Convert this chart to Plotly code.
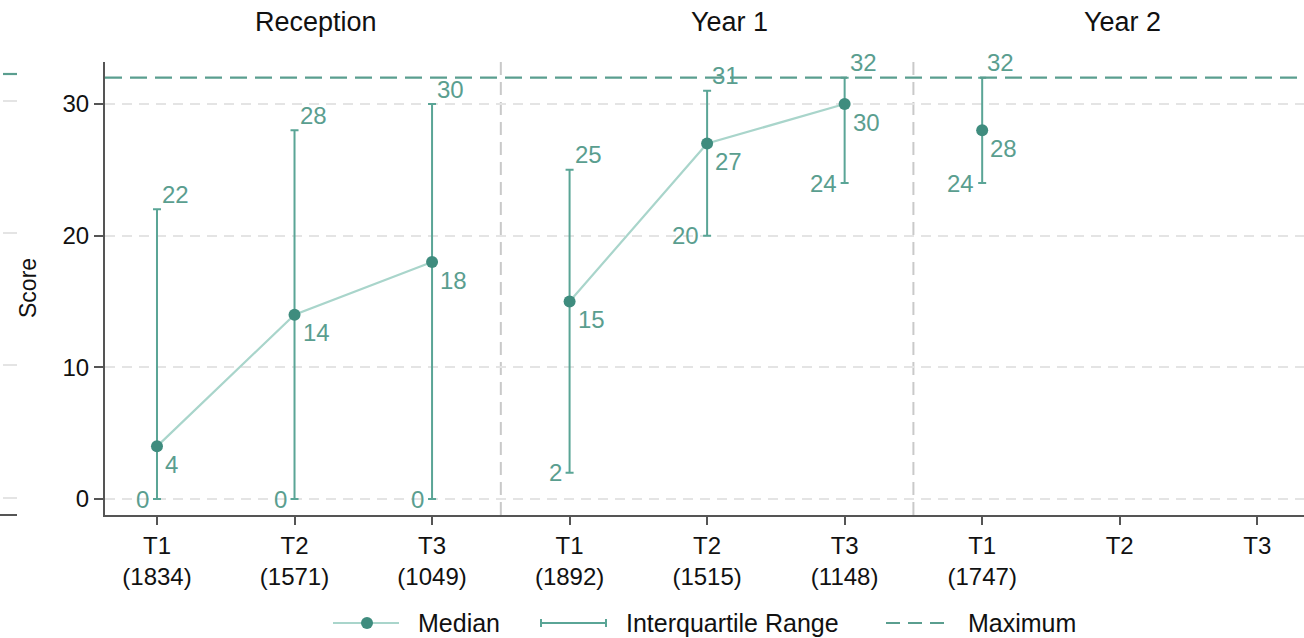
import plotly.graph_objects as go

# ---------------- data ----------------
groups = ["Reception", "Year 1", "Year 2"]
periods = ["T1", "T2", "T3"]
n_obs = [1834, 1571, 1049, 1892, 1515, 1148, 1747, None, None]
median = [4, 14, 18, 15, 27, 30, 28, None, None]
q1 = [0, 0, 0, 2, 20, 24, 24, None, None]
q3 = [22, 28, 30, 25, 31, 32, 32, None, None]
maximum = 32
y_ticks = [0, 10, 20, 30]

# ---------------- styling ----------------
W, H = 1304, 638
ML, MR, MT, MB = 105, 0, 62, 123
FONT = "Liberation Sans, Arial, sans-serif"
TEAL_DARK = "#3f8c7e"
TEAL = "#5aa596"
TEAL_LIGHT = "#a9d5cb"
TEAL_TEXT = "#5a9e8f"
GRID = "#e4e4e4"
SEP = "#c9c9c9"
AXIS = "#555555"

x_idx = list(range(len(groups) * len(periods)))
tick_text = []
for i in x_idx:
    p = periods[i % 3]
    tick_text.append(f"{p}<br>({n_obs[i]})" if n_obs[i] is not None else p)

x_range = [-0.378, 8.34]
y_range = [-1.215, 33.19]

fig = go.Figure()

# IQR error bars
valid = [i for i in x_idx if median[i] is not None]
fig.add_trace(go.Scatter(
    x=[i for i in valid], y=[median[i] for i in valid],
    mode="markers", marker=dict(size=1, opacity=0),
    error_y=dict(type="data", symmetric=False,
                 array=[q3[i] - median[i] for i in valid],
                 arrayminus=[median[i] - q1[i] for i in valid],
                 color=TEAL, thickness=2, width=4),
    name="Interquartile Range", showlegend=False, hoverinfo="skip"))

# Median lines within each group
lx, ly = [], []
for g in range(len(groups)):
    for p in range(3):
        i = g * 3 + p
        if median[i] is not None:
            lx.append(i); ly.append(median[i])
    lx.append(None); ly.append(None)
fig.add_trace(go.Scatter(x=lx, y=ly, mode="lines",
                         line=dict(color=TEAL_LIGHT, width=2.2),
                         showlegend=False, hoverinfo="skip", connectgaps=False))
fig.add_trace(go.Scatter(x=valid, y=[median[i] for i in valid], mode="markers",
                         marker=dict(color=TEAL_DARK, size=12),
                         name="Median", showlegend=False))

# Maximum line
fig.add_shape(type="line", xref="paper", x0=0, x1=1, yref="y", y0=maximum, y1=maximum,
              line=dict(color=TEAL_TEXT, width=2.2, dash="17px,8px"), layer="above")

# group separators
for g in range(1, len(groups)):
    xs = g * 3 - 0.5
    fig.add_shape(type="line", xref="x", x0=xs, x1=xs, yref="paper", y0=0, y1=1,
                  line=dict(color=SEP, width=2, dash="13px,7px"), layer="below")

annotations = []
lab_font = dict(family=FONT, size=24, color=TEAL_TEXT)
for i in valid:
    annotations.append(dict(x=i, y=q3[i], text=str(q3[i]), showarrow=False,
                            xanchor="left", yanchor="middle", xshift=3, yshift=15, font=lab_font))
    annotations.append(dict(x=i, y=q1[i], text=str(q1[i]), showarrow=False,
                            xanchor="right", yanchor="middle", xshift=-6, yshift=0, font=lab_font))
    annotations.append(dict(x=i, y=median[i], text=str(median[i]), showarrow=False,
                            xanchor="left", yanchor="middle", xshift=6, yshift=-18, font=lab_font))

# group titles
title_px = [316, 729, 1122]
for g, name in enumerate(groups):
    annotations.append(dict(xref="paper", yref="paper", x=(title_px[g] - ML) / (W - ML - MR),
                            y=(H - MB - 22) / (H - MT - MB), text=name, showarrow=False,
                            xanchor="center", yanchor="middle",
                            font=dict(family=FONT, size=27, color="#111111")))

# y axis title
annotations.append(dict(xref="paper", yref="paper", x=(28 - ML) / (W - ML - MR), y=(H - MB - 288) / (H - MT - MB),
                        text="Score", textangle=-90, showarrow=False, xanchor="center", yanchor="middle",
                        font=dict(family=FONT, size=23, color="#111111")))

# manual legend
pw, ph = W - ML - MR, H - MT - MB
def px(x): return (x - ML) / pw
def py(y): return (H - MB - y) / ph
ly_ = 623
shapes_leg = [
    dict(type="line", x0=px(333), x1=px(399), y0=py(ly_), y1=py(ly_), line=dict(color=TEAL_LIGHT, width=2.2)),
    dict(type="circle", x0=px(361), x1=px(373), y0=py(ly_ + 6), y1=py(ly_ - 6), fillcolor=TEAL_DARK, line=dict(width=0)),
    dict(type="line", x0=px(540), x1=px(607), y0=py(ly_), y1=py(ly_), line=dict(color=TEAL, width=2)),
    dict(type="line", x0=px(541), x1=px(541), y0=py(ly_ + 4), y1=py(ly_ - 4), line=dict(color=TEAL, width=2)),
    dict(type="line", x0=px(606), x1=px(606), y0=py(ly_ + 4), y1=py(ly_ - 4), line=dict(color=TEAL, width=2)),
    dict(type="line", x0=px(886), x1=px(951), y0=py(ly_), y1=py(ly_), line=dict(color=TEAL_TEXT, width=2.2, dash="14px,8px")),
]
for s in shapes_leg:
    s.update(xref="paper", yref="paper")
    fig.add_shape(**s)
for txt, xpos in [("Median", 416), ("Interquartile Range", 624), ("Maximum", 966)]:
    annotations.append(dict(xref="paper", yref="paper", x=px(xpos), y=py(ly_), text=txt, showarrow=False,
                            xanchor="left", yanchor="middle", font=dict(family=FONT, size=25, color="#111111")))

# cropped neighbour-panel remnants at the far left
for yy, col, wdt in [(74, TEAL_TEXT, 2.2), (101, GRID, 2), (233, GRID, 2),
                     (365, GRID, 2), (498, GRID, 2), (515, AXIS, 2)]:
    fig.add_shape(type="line", xref="paper", yref="paper", x0=px(3 if yy != 515 else 0), x1=px(17),
                  y0=py(yy), y1=py(yy), line=dict(color=col, width=wdt))

fig.update_layout(
    width=W, height=H, margin=dict(l=ML, r=MR, t=MT, b=MB),
    paper_bgcolor="white", plot_bgcolor="white",
    font=dict(family=FONT, size=22, color="#111111"),
    annotations=annotations, showlegend=False, hovermode=False,
    xaxis=dict(range=x_range, tickmode="array", tickvals=x_idx, ticktext=tick_text,
               showgrid=False, zeroline=False, showline=True, linecolor=AXIS, linewidth=2,
               ticks="outside", ticklen=8, tickwidth=2, tickcolor=AXIS,
               tickfont=dict(family=FONT, size=24, color="#111111")),
    yaxis=dict(range=y_range, tickmode="array", tickvals=y_ticks,
               showgrid=True, gridcolor=GRID, gridwidth=2, griddash="10px,7px",
               zeroline=False, showline=True, linecolor=AXIS, linewidth=2,
               ticks="outside", ticklen=9, tickwidth=2, tickcolor=AXIS,
               tickfont=dict(family=FONT, size=24, color="#111111")),
)

fig.write_html("out.html", config={"displayModeBar": False},
               post_script="document.body.style.margin='0';document.body.style.overflow='hidden';")
